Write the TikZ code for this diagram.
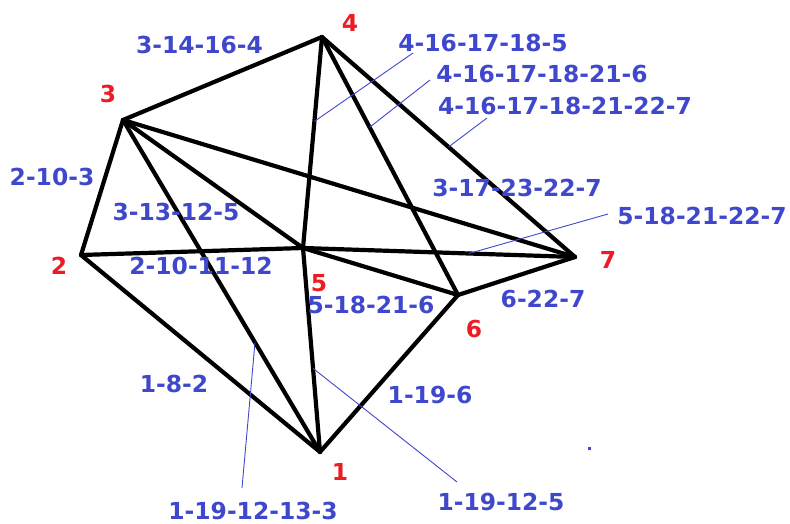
\documentclass[tikz,border=0pt]{standalone}
\usepackage{fontspec}
\setmainfont{DejaVu Sans}
\usetikzlibrary{calc}
\definecolor{lblblue}{RGB}{63,72,204}
\definecolor{vred}{RGB}{237,28,36}
\begin{document}
\begin{tikzpicture}[x=1pt,y=-1pt,
  edge/.style={line width=4.2pt, black, line cap=round},
  leader/.style={lblblue, line width=0.9pt},
  lbl/.style={text=lblblue, font=\fontsize{23.4}{28}\selectfont\bfseries, inner sep=0pt},
  vlbl/.style={text=vred, font=\fontsize{23.4}{28}\selectfont\bfseries, inner sep=0pt}]
\useasboundingbox (0,0) rectangle (790,524);
% vertices
\coordinate (v1) at (320,452);
\coordinate (v2) at (81,255);
\coordinate (v3) at (123,120);
\coordinate (v4) at (322,37);
\coordinate (v5) at (303,248);
\coordinate (v6) at (458,295);
\coordinate (v7) at (575,257);
% edges
\draw[edge] (v3) -- (v4);
\draw[edge] (v3) -- (v2);
\draw[edge] (v2) -- (v1);
\draw[edge] (v1) -- (v6);
\draw[edge] (v6) -- (v7);
\draw[edge] (v4) -- (v7);
\draw[edge] (v4) -- (v5);
\draw[edge] (v5) -- (v1);
\draw[edge] (v4) -- (v6);
\draw[edge] (v3) -- (v7);
\draw[edge] (v3) -- (v1);
\draw[edge] (v3) -- (v5);
\draw[edge] (v2) -- (v5);
\draw[edge] (v5) -- (v7);
\draw[edge] (v5) -- (v6);
% vertex labels
\node[vlbl] (n1) at (340,472) {1};
\node[vlbl] (n2) at (59,266) {2};
\node[vlbl] (n3) at (108,94) {3};
\node[vlbl] (n4) at (350,23) {4};
\node[vlbl] (n5) at (319,283) {5};
\node[vlbl] (n6) at (474,329) {6};
\node[vlbl] (n7) at (608,260) {7};
% path labels
\node[lbl] (p3144) at (199.5,45) {3-14-16-4};
\node[lbl] (p2103) at (52,177) {2-10-3};
\node[lbl] (p4a) at (483,43) {4-16-17-18-5};
\node[lbl] (p4b) at (542,74) {4-16-17-18-21-6};
\node[lbl] (p4c) at (565,106) {4-16-17-18-21-22-7};
\node[lbl] (p3727) at (517,188) {3-17-23-22-7};
\node[lbl] (p5187) at (702,216) {5-18-21-22-7};
\node[lbl] (p6227) at (543,299) {6-22-7};
\node[lbl] (p5186) at (371,305) {5-18-21-6};
\node[lbl] (p3135) at (176,212) {3-13-12-5};
\node[lbl] (p21012) at (201,266) {2-10-11-12};
\node[lbl] (p182) at (174,384) {1-8-2};
\node[lbl] (p1133) at (253,511) {1-19-12-13-3};
\node[lbl] (p1196) at (430,395) {1-19-6};
\node[lbl] (p1125) at (501,502) {1-19-12-5};
% leaders
\coordinate (la) at (413,53);
\coordinate (lb) at (430,80);
\coordinate (lc) at (487,118);
\coordinate (ld) at (608,214);
\coordinate (le) at (242,488);
\coordinate (lf) at (457,482);
\draw[leader] (la) -- ($(v4)!0.40!(v5)$);
\draw[leader] (lb) -- ($(v4)!0.35!(v6)$);
\draw[leader] (lc) -- ($(v4)!0.50!(v7)$);
\draw[leader] (ld) -- ($(v5)!0.61!(v7)$);
\draw[leader] (le) -- ($(v3)!0.67!(v1)$);
\draw[leader] (lf) -- ($(v5)!0.59!(v1)$);
% stray mark
\fill[lblblue] (587.5,447) rectangle (591,449.5);
\end{tikzpicture}
\end{document}
